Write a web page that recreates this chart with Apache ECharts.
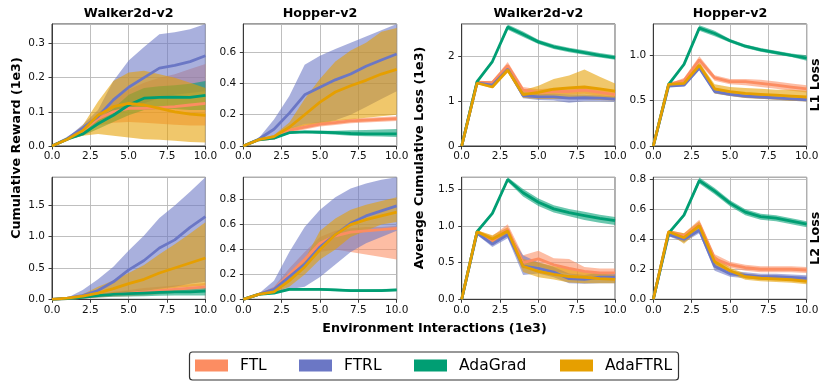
<!DOCTYPE html>
<html>
<head>
<meta charset="utf-8">
<script src="https://cdn.jsdelivr.net/npm/echarts@6/dist/echarts.min.js"></script>
<style>
  html, body { margin: 0; padding: 0; background: #fff; }
  #chart { width: 831px; height: 388px; }
</style>
</head>
<body>
<div id="chart"></div>
<script>
// x: environment interactions (1e3)
const X = [0, 1, 2, 3, 4, 5, 6, 7, 8, 9, 10];
const METHODS = ["FTL", "FTRL", "AdaGrad", "AdaFTRL"];
const COLORS = { FTL: "#fc8d62", FTRL: "#6b77c5", AdaGrad: "#009e73", AdaFTRL: "#e69f00" };
const ENV_TITLES = ["Walker2d-v2", "Hopper-v2", "Walker2d-v2", "Hopper-v2"];
const ROW_LABELS = ["L1 Loss", "L2 Loss"];

// Walker2d reward, L1 row
const walkerRewardL1Mean = {
  FTL:     [0, 0.02, 0.045, 0.08, 0.1, 0.11, 0.11, 0.112, 0.115, 0.12, 0.125],
  FTRL:    [0, 0.022, 0.052, 0.086, 0.135, 0.172, 0.2, 0.228, 0.236, 0.247, 0.264],
  AdaGrad: [0, 0.02, 0.035, 0.065, 0.09, 0.12, 0.14, 0.142, 0.143, 0.142, 0.148],
  AdaFTRL: [0, 0.02, 0.045, 0.09, 0.115, 0.125, 0.12, 0.11, 0.1, 0.093, 0.09],
};
const walkerRewardL1Lo = {
  FTL:     [0, 0.018, 0.038, 0.06, 0.068, 0.07, 0.068, 0.065, 0.062, 0.06, 0.06],
  FTRL:    [0, 0.018, 0.045, 0.07, 0.09, 0.11, 0.125, 0.14, 0.15, 0.155, 0.16],
  AdaGrad: [0, 0.018, 0.03, 0.05, 0.07, 0.09, 0.105, 0.108, 0.108, 0.105, 0.105],
  AdaFTRL: [0, 0.018, 0.03, 0.035, 0.03, 0.025, 0.02, 0.018, 0.015, 0.012, 0.01],
};
const walkerRewardL1Hi = {
  FTL:     [0, 0.022, 0.052, 0.095, 0.135, 0.165, 0.185, 0.2, 0.21, 0.225, 0.24],
  FTRL:    [0, 0.025, 0.062, 0.105, 0.19, 0.25, 0.29, 0.327, 0.333, 0.342, 0.357],
  AdaGrad: [0, 0.022, 0.042, 0.08, 0.11, 0.15, 0.17, 0.175, 0.178, 0.182, 0.19],
  AdaFTRL: [0, 0.022, 0.06, 0.13, 0.19, 0.215, 0.22, 0.21, 0.2, 0.185, 0.17],
};

// Hopper reward, L1 row
const hopperRewardL1Mean = {
  FTL:     [0, 0.04, 0.05, 0.1, 0.12, 0.14, 0.15, 0.16, 0.165, 0.17, 0.175],
  FTRL:    [0, 0.043, 0.107, 0.21, 0.327, 0.376, 0.423, 0.46, 0.51, 0.55, 0.588],
  AdaGrad: [0, 0.04, 0.05, 0.085, 0.09, 0.088, 0.085, 0.08, 0.078, 0.078, 0.078],
  AdaFTRL: [0, 0.04, 0.06, 0.12, 0.2, 0.28, 0.345, 0.385, 0.42, 0.46, 0.49],
};
const hopperRewardL1Lo = {
  FTL:     [0, 0.038, 0.045, 0.085, 0.105, 0.125, 0.135, 0.145, 0.15, 0.155, 0.16],
  FTRL:    [0, 0.036, 0.05, 0.11, 0.14, 0.15, 0.165, 0.2, 0.25, 0.3, 0.35],
  AdaGrad: [0, 0.038, 0.045, 0.078, 0.083, 0.078, 0.072, 0.065, 0.062, 0.06, 0.058],
  AdaFTRL: [0, 0.038, 0.05, 0.1, 0.13, 0.14, 0.16, 0.17, 0.18, 0.19, 0.2],
};
const hopperRewardL1Hi = {
  FTL:     [0, 0.042, 0.055, 0.115, 0.14, 0.155, 0.165, 0.175, 0.18, 0.185, 0.19],
  FTRL:    [0, 0.05, 0.17, 0.32, 0.52, 0.577, 0.62, 0.66, 0.7, 0.74, 0.78],
  AdaGrad: [0, 0.042, 0.055, 0.092, 0.097, 0.098, 0.098, 0.1, 0.102, 0.105, 0.108],
  AdaFTRL: [0, 0.042, 0.07, 0.15, 0.3, 0.43, 0.54, 0.61, 0.66, 0.73, 0.755],
};

// Walker2d loss, L1
const walkerLossL1Mean = {
  FTL:     [0, 1.43, 1.42, 1.8, 1.25, 1.2, 1.22, 1.22, 1.25, 1.2, 1.15],
  FTRL:    [0, 1.41, 1.36, 1.72, 1.13, 1.1, 1.1, 1.07, 1.08, 1.07, 1.05],
  AdaGrad: [0, 1.44, 1.89, 2.66, 2.5, 2.33, 2.22, 2.15, 2.09, 2.03, 1.98],
  AdaFTRL: [0, 1.41, 1.32, 1.7, 1.15, 1.2, 1.27, 1.3, 1.32, 1.28, 1.23],
};
const walkerLossL1Lo = {
  FTL:     [0, 1.41, 1.38, 1.72, 1.18, 1.13, 1.15, 1.15, 1.17, 1.12, 1.08],
  FTRL:    [0, 1.39, 1.33, 1.67, 1.07, 1.03, 1.02, 0.97, 1.0, 1.0, 0.99],
  AdaGrad: [0, 1.42, 1.87, 2.6, 2.44, 2.28, 2.17, 2.1, 2.04, 1.98, 1.93],
  AdaFTRL: [0, 1.39, 1.29, 1.64, 1.08, 1.05, 1.05, 1.05, 1.05, 1.03, 1.02],
};
const walkerLossL1Hi = {
  FTL:     [0, 1.45, 1.46, 1.88, 1.32, 1.27, 1.3, 1.3, 1.33, 1.28, 1.22],
  FTRL:    [0, 1.43, 1.39, 1.77, 1.2, 1.16, 1.17, 1.15, 1.15, 1.13, 1.1],
  AdaGrad: [0, 1.46, 1.91, 2.72, 2.56, 2.38, 2.27, 2.2, 2.14, 2.08, 2.03],
  AdaFTRL: [0, 1.43, 1.36, 1.76, 1.25, 1.35, 1.5, 1.58, 1.71, 1.55, 1.4],
};

// Hopper loss, L1
const hopperLossL1Mean = {
  FTL:     [0, 0.68, 0.72, 0.95, 0.75, 0.71, 0.71, 0.69, 0.67, 0.65, 0.63],
  FTRL:    [0, 0.66, 0.67, 0.86, 0.6, 0.57, 0.55, 0.54, 0.53, 0.52, 0.51],
  AdaGrad: [0, 0.68, 0.9, 1.3, 1.24, 1.16, 1.1, 1.06, 1.03, 1.0, 0.97],
  AdaFTRL: [0, 0.68, 0.69, 0.89, 0.63, 0.6, 0.58, 0.57, 0.56, 0.55, 0.54],
};
const hopperLossL1Lo = {
  FTL:     [0, 0.67, 0.69, 0.91, 0.72, 0.68, 0.67, 0.65, 0.63, 0.61, 0.59],
  FTRL:    [0, 0.65, 0.66, 0.84, 0.58, 0.55, 0.53, 0.52, 0.51, 0.5, 0.49],
  AdaGrad: [0, 0.67, 0.89, 1.27, 1.21, 1.14, 1.08, 1.04, 1.01, 0.98, 0.94],
  AdaFTRL: [0, 0.67, 0.68, 0.86, 0.58, 0.55, 0.53, 0.52, 0.51, 0.5, 0.49],
};
const hopperLossL1Hi = {
  FTL:     [0, 0.69, 0.75, 0.99, 0.78, 0.74, 0.74, 0.73, 0.71, 0.69, 0.67],
  FTRL:    [0, 0.67, 0.68, 0.88, 0.62, 0.59, 0.57, 0.56, 0.55, 0.54, 0.53],
  AdaGrad: [0, 0.69, 0.91, 1.33, 1.27, 1.18, 1.12, 1.08, 1.05, 1.02, 1.0],
  AdaFTRL: [0, 0.69, 0.7, 0.92, 0.68, 0.65, 0.64, 0.63, 0.62, 0.62, 0.61],
};

// Walker2d reward, L2 row
const walkerRewardL2Mean = {
  FTL:     [0, 0.01, 0.03, 0.06, 0.08, 0.1, 0.12, 0.14, 0.16, 0.18, 0.2],
  FTRL:    [0, 0.02, 0.06, 0.14, 0.28, 0.47, 0.62, 0.82, 0.95, 1.15, 1.32],
  AdaGrad: [0, 0.01, 0.03, 0.06, 0.08, 0.09, 0.1, 0.11, 0.12, 0.12, 0.13],
  AdaFTRL: [0, 0.02, 0.05, 0.1, 0.17, 0.25, 0.32, 0.42, 0.5, 0.58, 0.66],
};
const walkerRewardL2Lo = {
  FTL:     [0, 0.008, 0.02, 0.03, 0.04, 0.05, 0.06, 0.08, 0.1, 0.12, 0.13],
  FTRL:    [0, 0.015, 0.02, 0.04, 0.07, 0.1, 0.13, 0.17, 0.2, 0.25, 0.28],
  AdaGrad: [0, 0.008, 0.02, 0.03, 0.04, 0.045, 0.05, 0.055, 0.06, 0.06, 0.06],
  AdaFTRL: [0, 0.015, 0.03, 0.05, 0.08, 0.1, 0.13, 0.15, 0.18, 0.2, 0.22],
};
const walkerRewardL2Hi = {
  FTL:     [0, 0.012, 0.04, 0.09, 0.12, 0.15, 0.18, 0.2, 0.22, 0.24, 0.26],
  FTRL:    [0, 0.025, 0.15, 0.32, 0.52, 0.78, 1.02, 1.3, 1.5, 1.72, 1.95],
  AdaGrad: [0, 0.012, 0.04, 0.08, 0.11, 0.13, 0.14, 0.15, 0.16, 0.17, 0.18],
  AdaFTRL: [0, 0.025, 0.08, 0.2, 0.3, 0.42, 0.55, 0.72, 0.88, 1.05, 1.23],
};

// Hopper reward, L2 row
const hopperRewardL2Mean = {
  FTL:     [0, 0.04, 0.08, 0.2, 0.32, 0.45, 0.51, 0.54, 0.55, 0.56, 0.57],
  FTRL:    [0, 0.04, 0.08, 0.18, 0.28, 0.42, 0.52, 0.61, 0.67, 0.71, 0.75],
  AdaGrad: [0, 0.04, 0.05, 0.08, 0.08, 0.08, 0.075, 0.07, 0.07, 0.07, 0.075],
  AdaFTRL: [0, 0.04, 0.06, 0.15, 0.26, 0.4, 0.52, 0.6, 0.64, 0.67, 0.7],
};
const hopperRewardL2Lo = {
  FTL:     [0, 0.038, 0.06, 0.14, 0.28, 0.38, 0.4, 0.38, 0.36, 0.34, 0.32],
  FTRL:    [0, 0.035, 0.05, 0.08, 0.1, 0.18, 0.28, 0.38, 0.45, 0.5, 0.55],
  AdaGrad: [0, 0.038, 0.045, 0.07, 0.07, 0.07, 0.065, 0.06, 0.06, 0.06, 0.065],
  AdaFTRL: [0, 0.038, 0.05, 0.1, 0.2, 0.32, 0.4, 0.5, 0.55, 0.6, 0.62],
};
const hopperRewardL2Hi = {
  FTL:     [0, 0.042, 0.1, 0.25, 0.38, 0.5, 0.55, 0.57, 0.58, 0.58, 0.59],
  FTRL:    [0, 0.045, 0.15, 0.38, 0.58, 0.72, 0.82, 0.89, 0.93, 0.96, 0.98],
  AdaGrad: [0, 0.042, 0.055, 0.09, 0.09, 0.09, 0.085, 0.08, 0.08, 0.082, 0.085],
  AdaFTRL: [0, 0.042, 0.07, 0.2, 0.32, 0.55, 0.65, 0.72, 0.76, 0.79, 0.82],
};

// Walker2d loss, L2
const walkerLossL2Mean = {
  FTL:     [0, 0.92, 0.8, 0.95, 0.5, 0.55, 0.47, 0.42, 0.38, 0.36, 0.36],
  FTRL:    [0, 0.9, 0.75, 0.88, 0.45, 0.42, 0.37, 0.28, 0.27, 0.3, 0.3],
  AdaGrad: [0, 0.92, 1.17, 1.63, 1.45, 1.32, 1.23, 1.18, 1.14, 1.1, 1.07],
  AdaFTRL: [0, 0.92, 0.82, 0.93, 0.45, 0.38, 0.34, 0.31, 0.3, 0.28, 0.27],
};
const walkerLossL2Lo = {
  FTL:     [0, 0.9, 0.75, 0.88, 0.42, 0.45, 0.38, 0.34, 0.32, 0.31, 0.31],
  FTRL:    [0, 0.88, 0.71, 0.83, 0.33, 0.35, 0.3, 0.22, 0.21, 0.22, 0.22],
  AdaGrad: [0, 0.9, 1.15, 1.6, 1.4, 1.27, 1.18, 1.13, 1.08, 1.04, 1.01],
  AdaFTRL: [0, 0.9, 0.77, 0.88, 0.37, 0.3, 0.27, 0.23, 0.22, 0.22, 0.22],
};
const walkerLossL2Hi = {
  FTL:     [0, 0.94, 0.86, 1.02, 0.6, 0.66, 0.56, 0.55, 0.44, 0.42, 0.42],
  FTRL:    [0, 0.92, 0.79, 0.93, 0.6, 0.5, 0.44, 0.35, 0.33, 0.36, 0.36],
  AdaGrad: [0, 0.94, 1.19, 1.66, 1.5, 1.37, 1.28, 1.23, 1.19, 1.15, 1.12],
  AdaFTRL: [0, 0.94, 0.87, 0.98, 0.55, 0.5, 0.45, 0.42, 0.38, 0.35, 0.33],
};

// Hopper loss, L2
const hopperLossL2Mean = {
  FTL:     [0, 0.45, 0.42, 0.5, 0.27, 0.23, 0.21, 0.2, 0.2, 0.2, 0.195],
  FTRL:    [0, 0.43, 0.4, 0.46, 0.22, 0.17, 0.16, 0.15, 0.15, 0.145, 0.14],
  AdaGrad: [0, 0.44, 0.56, 0.79, 0.72, 0.64, 0.58, 0.55, 0.54, 0.52, 0.5],
  AdaFTRL: [0, 0.45, 0.41, 0.49, 0.25, 0.19, 0.15, 0.14, 0.135, 0.13, 0.12],
};
const hopperLossL2Lo = {
  FTL:     [0, 0.44, 0.4, 0.48, 0.25, 0.21, 0.19, 0.18, 0.18, 0.18, 0.175],
  FTRL:    [0, 0.42, 0.38, 0.44, 0.19, 0.15, 0.14, 0.13, 0.13, 0.125, 0.12],
  AdaGrad: [0, 0.43, 0.55, 0.77, 0.7, 0.62, 0.56, 0.53, 0.52, 0.5, 0.48],
  AdaFTRL: [0, 0.44, 0.37, 0.46, 0.21, 0.17, 0.13, 0.12, 0.115, 0.11, 0.1],
};
const hopperLossL2Hi = {
  FTL:     [0, 0.46, 0.44, 0.53, 0.3, 0.25, 0.23, 0.22, 0.22, 0.22, 0.215],
  FTRL:    [0, 0.44, 0.42, 0.48, 0.25, 0.19, 0.18, 0.17, 0.17, 0.165, 0.16],
  AdaGrad: [0, 0.45, 0.57, 0.81, 0.74, 0.66, 0.6, 0.57, 0.56, 0.54, 0.52],
  AdaFTRL: [0, 0.46, 0.44, 0.52, 0.29, 0.21, 0.17, 0.16, 0.155, 0.15, 0.14],
};

// 子图布局: 列左边界, 行上边界
const COL_LEFT = [52, 243.3, 461.7, 653.3];
const ROW_TOP = [24, 177.3];
const PLOT_W = 153.4;
const PLOT_H = 122;

const PANELS = [
  { row: 0, col: 0, mean: walkerRewardL1Mean, lo: walkerRewardL1Lo, hi: walkerRewardL1Hi, max: 0.357, step: 0.1, digits: 1 },
  { row: 0, col: 1, mean: hopperRewardL1Mean, lo: hopperRewardL1Lo, hi: hopperRewardL1Hi, max: 0.78, step: 0.2, digits: 1 },
  { row: 0, col: 2, mean: walkerLossL1Mean, lo: walkerLossL1Lo, hi: walkerLossL1Hi, max: 2.73, step: 1, digits: 0 },
  { row: 0, col: 3, mean: hopperLossL1Mean, lo: hopperLossL1Lo, hi: hopperLossL1Hi, max: 1.345, step: 0.5, digits: 1 },
  { row: 1, col: 0, mean: walkerRewardL2Mean, lo: walkerRewardL2Lo, hi: walkerRewardL2Hi, max: 1.95, step: 0.5, digits: 1 },
  { row: 1, col: 1, mean: hopperRewardL2Mean, lo: hopperRewardL2Lo, hi: hopperRewardL2Hi, max: 0.98, step: 0.2, digits: 1 },
  { row: 1, col: 2, mean: walkerLossL2Mean, lo: walkerLossL2Lo, hi: walkerLossL2Hi, max: 1.66, step: 0.5, digits: 1 },
  { row: 1, col: 3, mean: hopperLossL2Mean, lo: hopperLossL2Lo, hi: hopperLossL2Hi, max: 0.812, step: 0.2, digits: 1 },
];

const FONT = "DejaVu Sans";
const SPINE = "#3a3a3a";
const GRID_LINE = "#b8b8b8";

const grids = [];
const xAxes = [];
const yAxes = [];
const series = [];

// 阴影带: 用 custom 系列画多边形 (上界正向 + 下界反向)
const bandSeries = (i, lo, hi, color) => {
  const rows = X.map((x, k) => [x, lo[k], hi[k]]);
  return {
    type: "custom",
    xAxisIndex: i,
    yAxisIndex: i,
    silent: true,
    z: 1,
    encode: { x: 0, y: [1, 2] },
    data: rows,
    renderItem: (params, api) => {
      if (params.dataIndex !== 0) return null;
      const pts = [];
      rows.forEach(r => pts.push(api.coord([r[0], r[2]])));
      rows.slice().reverse().forEach(r => pts.push(api.coord([r[0], r[1]])));
      return {
        type: "polygon",
        shape: { points: pts },
        style: { fill: color, opacity: 0.58 },
      };
    },
  };
};

PANELS.forEach((p, i) => {
  grids.push({
    left: COL_LEFT[p.col],
    top: ROW_TOP[p.row],
    width: PLOT_W,
    height: PLOT_H,
    show: true,
    borderColor: SPINE,
    borderWidth: 1,
    backgroundColor: "transparent",
    containLabel: false,
    outerBoundsMode: "none",
  });
  xAxes.push({
    type: "value",
    gridIndex: i,
    min: 0,
    max: 10,
    interval: 2.5,
    axisLine: { show: true, onZero: false, lineStyle: { color: SPINE, width: 1 } },
    axisTick: { show: true, length: 3.5, lineStyle: { color: SPINE } },
    axisLabel: {
      fontFamily: FONT,
      fontSize: 10.5,
      color: "#111",
      margin: 5,
      formatter: v => v.toFixed(1),
    },
    splitLine: { show: true, lineStyle: { color: GRID_LINE, width: 0.9 } },
  });
  yAxes.push({
    type: "value",
    gridIndex: i,
    min: 0,
    max: p.max,
    interval: p.step,
    axisLine: { show: true, onZero: false, lineStyle: { color: SPINE, width: 1 } },
    axisTick: { show: true, length: 3.5, lineStyle: { color: SPINE } },
    axisLabel: {
      fontFamily: FONT,
      fontSize: 10.5,
      color: "#111",
      margin: 7,
      showMaxLabel: false,
      formatter: v => v.toFixed(p.digits),
    },
    splitLine: { show: true, lineStyle: { color: GRID_LINE, width: 0.9 } },
  });

  METHODS.forEach(m => series.push(bandSeries(i, p.lo[m], p.hi[m], COLORS[m])));
  // 均值线
  METHODS.forEach(m => {
    series.push({
      name: m,
      type: "line",
      xAxisIndex: i,
      yAxisIndex: i,
      symbol: "none",
      lineStyle: { color: COLORS[m], width: 2.8 },
      itemStyle: { color: COLORS[m] },
      z: 3,
      data: X.map((x, k) => [x, p.mean[m][k]]),
    });
  });
});

const boldText = (text, x, y, rotation) => ({
  type: "text",
  x: x,
  y: y,
  rotation: rotation || 0,
  style: {
    text: text,
    font: "bold 12.7px '" + FONT + "'",
    fill: "#000",
    align: "center",
    verticalAlign: "middle",
    textAlign: "center",
    textVerticalAlign: "middle",
  },
});

const graphics = [];
ENV_TITLES.forEach((t, c) => graphics.push(boldText(t, COL_LEFT[c] + PLOT_W / 2, 13.5)));
graphics.push(boldText("Cumulative Reward (1e3)", 17, 148, Math.PI / 2));
graphics.push(boldText("Average Cumulative Loss (1e3)", 420, 158, Math.PI / 2));
ROW_LABELS.forEach((t, r) => graphics.push(boldText(t, 816, ROW_TOP[r] + PLOT_H / 2, Math.PI / 2)));
graphics.push(boldText("Environment Interactions (1e3)", 434.5, 328.5));
// 图例边框
graphics.push({
  type: "rect",
  shape: { x: 189.5, y: 352, width: 489, height: 28, r: 3 },
  style: { fill: "#fff", stroke: "#333", lineWidth: 1.2 },
  z: -1,
});

const LEGEND_LEFT = [195, 299, 414, 560];
const legends = METHODS.map((m, j) => ({
  left: LEGEND_LEFT[j],
  top: 357.5,
  padding: 0,
  icon: "rect",
  itemWidth: 33,
  itemHeight: 12,
  selectedMode: false,
  textStyle: { fontFamily: FONT, fontSize: 15.5, color: "#000", padding: [0, 0, 0, 7] },
  data: [{ name: m, itemStyle: { color: COLORS[m] } }],
}));

const chart = echarts.init(document.getElementById("chart"), null, { renderer: "canvas" });
chart.setOption({
  animation: false,
  backgroundColor: "#fff",
  grid: grids,
  xAxis: xAxes,
  yAxis: yAxes,
  legend: legends,
  graphic: graphics,
  series: series,
});
</script>
</body>
</html>
